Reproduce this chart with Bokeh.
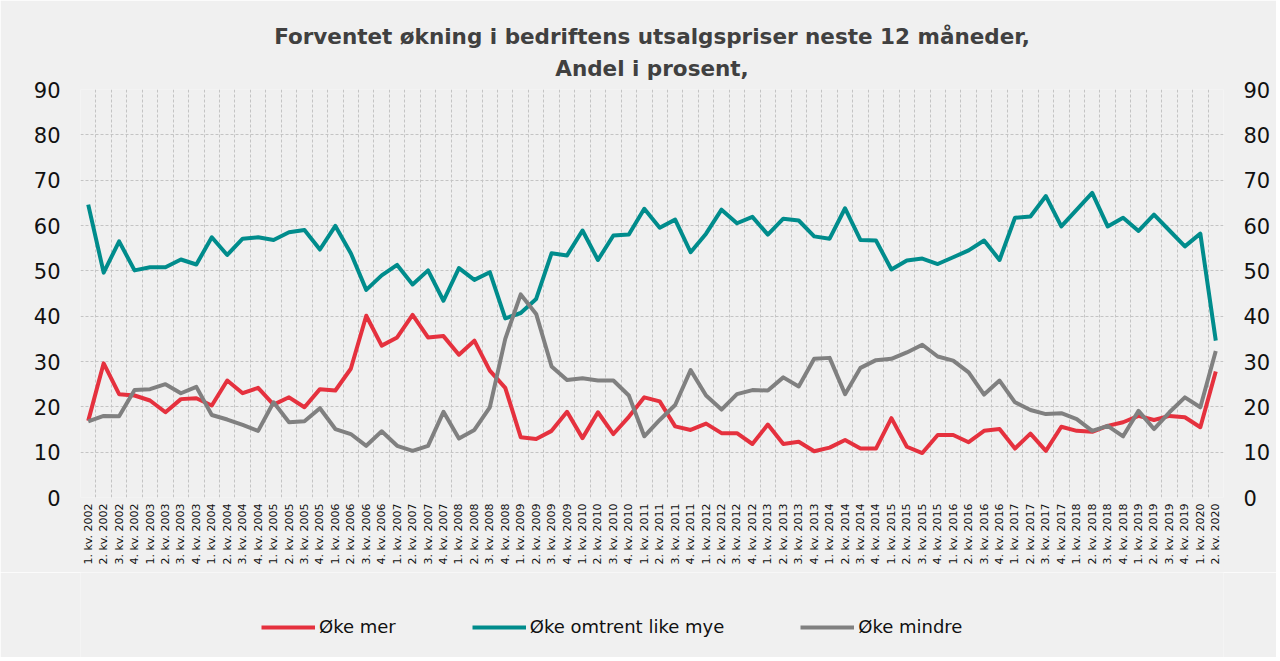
import math
from bokeh.plotting import figure
from bokeh.layouts import column
from bokeh.models import Range1d, FixedTicker, LinearAxis, Legend, LegendItem, ColumnDataSource, Title
from bokeh.embed import file_html
from bokeh.resources import INLINE

# ---- data -------------------------------------------------------------
quarters = [f"{q}. kv. {y}" for y in range(2002, 2021) for q in (1, 2, 3, 4)][:74]

oke_mer = [16.9, 29.6, 22.8, 22.5, 21.4, 18.8, 21.7, 21.9, 20.3, 25.8, 23.0, 24.2, 20.5, 22.1, 19.9, 23.9, 23.6, 28.4,
           40.1, 33.5, 35.3, 40.3, 35.3, 35.6, 31.5, 34.6, 28.0, 24.2, 13.3, 12.9, 14.7, 18.9, 13.1, 18.8, 14.0, 17.8,
           22.1, 21.2, 15.7, 14.9, 16.3, 14.2, 14.2, 11.8, 16.1, 11.8, 12.3, 10.2, 11.0, 12.7, 10.8, 10.8, 17.5, 11.2,
           9.8, 13.8, 13.8, 12.2, 14.7, 15.1, 10.8, 14.1, 10.3, 15.6, 14.7, 14.5, 15.8, 16.6, 18.0, 17.1, 18.0, 17.7,
           15.5, 27.8]

oke_like = [64.6, 49.6, 56.5, 50.1, 50.8, 50.8, 52.5, 51.4, 57.4, 53.5, 57.1, 57.4, 56.8, 58.5, 59.0, 54.7, 59.9, 53.9,
            45.8, 49.0, 51.3, 47.0, 50.1, 43.4, 50.6, 48.0, 49.7, 39.5, 40.7, 43.8, 53.9, 53.4, 58.9, 52.4, 57.8, 58.0,
            63.7, 59.5, 61.3, 54.1, 58.2, 63.5, 60.5, 61.9, 58.0, 61.5, 61.1, 57.6, 57.1, 63.8, 56.8, 56.7, 50.3, 52.3,
            52.7, 51.5, 53.0, 54.5, 56.7, 52.4, 61.7, 62.0, 66.5, 59.8, 63.5, 67.2, 59.8, 61.7, 58.8, 62.4, 58.9, 55.4,
            58.2, 34.6]

oke_mindre = [16.8, 18.0, 17.9, 23.7, 23.9, 25.0, 23.0, 24.4, 18.2, 17.2, 16.0, 14.7, 21.0, 16.6, 16.8, 19.7, 15.1, 14.0,
              11.4, 14.6, 11.4, 10.3, 11.4, 18.9, 13.0, 14.9, 19.9, 35.0, 44.8, 40.5, 28.9, 25.9, 26.3, 25.8, 25.8, 22.5,
              13.5, 17.1, 20.4, 28.1, 22.5, 19.4, 22.8, 23.7, 23.6, 26.5, 24.5, 30.6, 30.8, 22.8, 28.6, 30.3, 30.6, 32.0,
              33.7, 31.1, 30.2, 27.6, 22.7, 25.8, 21.0, 19.3, 18.4, 18.6, 17.3, 14.7, 15.8, 13.5, 19.1, 15.1, 18.8, 22.1,
              19.9, 32.3]

series_names = ["Øke mer", "Øke omtrent like mye", "Øke mindre"]
y_ticks = [0, 10, 20, 30, 40, 50, 60, 70, 80, 90]

title_line1 = "Forventet økning i bedriftens utsalgspriser neste 12 måneder,"
title_line2 = "Andel i prosent,"

# ---- styles -------------------------------------------------------------
BG = "#F0F0F0"
FONT = "DejaVu Sans"
colors = ["#E5313E", "#008C8C", "#808080"]
W = 1276

src = ColumnDataSource(dict(x=list(range(len(quarters))), mer=oke_mer, like=oke_like, mindre=oke_mindre))
cols = ["mer", "like", "mindre"]

p = figure(width=W, height=572, output_backend="svg", toolbar_location=None,
           x_range=Range1d(-0.5, len(quarters) - 0.5), y_range=Range1d(0, 90),
           min_border_left=80, min_border_right=53, min_border_top=89, min_border_bottom=75,
           background_fill_color=BG, border_fill_color=BG, outline_line_color=None)

# titles: the added Title sits nearest the plot, p.title above it
p.title.text = title_line1
sub = Title(text=title_line2)
p.add_layout(sub, "above")
for t in (p.title, sub):
    t.align = "center"
    t.text_font = FONT
    t.text_font_size = "21.5px"
    t.text_font_style = "bold"
    t.text_color = "#404040"
sub.standoff = 18
p.title.standoff = -8

# axes
p.add_layout(LinearAxis(), "right")
for ax in p.yaxis:
    ax.ticker = FixedTicker(ticks=y_ticks)
    ax.axis_line_color = None
    ax.major_tick_line_color = None
    ax.minor_tick_line_color = None
    ax.major_tick_out = 0
    ax.major_tick_in = 0
    ax.major_label_standoff = 20
    ax.major_label_text_font = FONT
    ax.major_label_text_font_size = "21px"
    ax.major_label_text_color = "#111111"

xa = p.xaxis[0]
xa.ticker = FixedTicker(ticks=list(range(len(quarters))))
xa.major_label_overrides = {i: q for i, q in enumerate(quarters)}
xa.major_label_orientation = math.pi / 2
xa.axis_line_color = None
xa.major_tick_line_color = None
xa.minor_tick_line_color = None
xa.major_tick_out = 0
xa.major_tick_in = 0
xa.major_label_standoff = 6
xa.major_label_text_font = FONT
xa.major_label_text_font_size = "11px"
xa.major_label_text_color = "#111111"

# grids
p.xgrid.ticker = FixedTicker(ticks=[i - 0.5 for i in range(len(quarters) + 1)])
p.ygrid.ticker = FixedTicker(ticks=y_ticks)
for g in (p.xgrid[0], p.ygrid[0]):
    g.grid_line_color = "#C4C4C4"
    g.grid_line_dash = "3 2"
    g.grid_line_width = 1

# lines
for c, col in zip(colors, cols):
    p.line("x", col, source=src, line_color=c, line_width=4, line_join="round")

# ---- legend strip (separate figure below the chart; its frame is aligned with the chart's) ----
lg = figure(width=W, height=85, output_backend="svg", toolbar_location=None,
            x_axis_location=None, y_axis_location=None, min_border=0,
            x_range=Range1d(-0.5, len(quarters) - 0.5), y_range=Range1d(1000, 1001),
            background_fill_color=BG, border_fill_color=BG, outline_line_color=None)
lg.xgrid.visible = False
lg.ygrid.visible = False
# same series, drawn outside this strip's visible range: they only feed the legend glyphs
lr = [lg.line("x", col, source=src, line_color=c, line_width=4) for c, col in zip(colors, cols)]

legend = Legend(items=[LegendItem(label=n, renderers=[r]) for n, r in zip(series_names, lr)],
                orientation="horizontal", location=(181, 20),
                spacing=76, glyph_width=54, glyph_height=20, label_height=20,
                label_standoff=4, padding=0, margin=0,
                border_line_color=None, background_fill_alpha=0,
                label_text_font=FONT, label_text_font_size="18px", label_text_color="#111111")
lg.add_layout(legend, "center")

layout = column(p, lg, spacing=0)
open("out.html", "w").write(file_html(layout, INLINE))
